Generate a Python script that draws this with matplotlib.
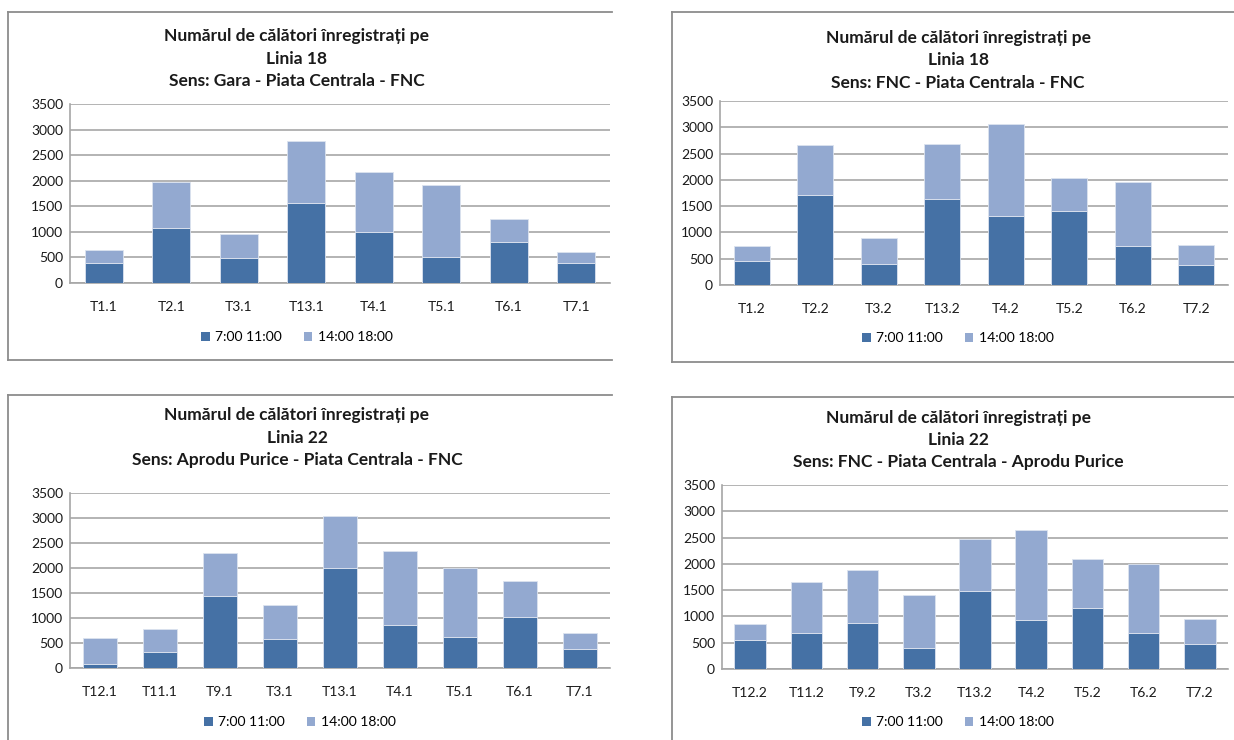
import matplotlib
matplotlib.use("Agg")
import matplotlib.pyplot as plt
from matplotlib.patches import Patch
from matplotlib.lines import Line2D
import numpy as np

plt.rcParams['font.family'] = ['Lato', 'DejaVu Sans']

W, H = 1234, 740

# ---- data -------------------------------------------------------------
series_names = ["7:00 11:00", "14:00 18:00"]

titles = [
    "Numărul de călători înregistrați pe\nLinia 18\nSens: Gara - Piata Centrala - FNC",
    "Numărul de călători înregistrați pe\nLinia 18\nSens: FNC - Piata Centrala - FNC",
    "Numărul de călători înregistrați pe\nLinia 22\nSens: Aprodu Purice - Piata Centrala - FNC",
    "Numărul de călători înregistrați pe\nLinia 22\nSens: FNC - Piata Centrala - Aprodu Purice",
]

cats_18_dus = ["T1.1", "T2.1", "T3.1", "T13.1", "T4.1", "T5.1", "T6.1", "T7.1"]
morning_18_dus = [390, 1080, 490, 1560, 1000, 500, 800, 390]
afternoon_18_dus = [260, 890, 460, 1220, 1180, 1420, 460, 225]

cats_18_intors = ["T1.2", "T2.2", "T3.2", "T13.2", "T4.2", "T5.2", "T6.2", "T7.2"]
morning_18_intors = [465, 1710, 400, 1640, 1305, 1400, 745, 375]
afternoon_18_intors = [275, 950, 485, 1050, 1755, 635, 1210, 385]

cats_22_dus = ["T12.1", "T11.1", "T9.1", "T3.1", "T13.1", "T4.1", "T5.1", "T6.1", "T7.1"]
morning_22_dus = [85, 330, 1450, 585, 2000, 865, 620, 1030, 390]
afternoon_22_dus = [525, 460, 845, 670, 1050, 1470, 1375, 715, 305]

cats_22_intors = ["T12.2", "T11.2", "T9.2", "T3.2", "T13.2", "T4.2", "T5.2", "T6.2", "T7.2"]
morning_22_intors = [545, 690, 880, 395, 1490, 930, 1155, 690, 475]
afternoon_22_intors = [310, 965, 995, 1015, 975, 1720, 935, 1310, 470]

y_ticks = [0, 500, 1000, 1500, 2000, 2500, 3000, 3500]

panels = [
    (cats_18_dus, morning_18_dus, afternoon_18_dus),
    (cats_18_intors, morning_18_intors, afternoon_18_intors),
    (cats_22_dus, morning_22_dus, afternoon_22_dus),
    (cats_22_intors, morning_22_intors, afternoon_22_intors),
]

# ---- layout (pixels) --------------------------------------------------
# frame box: left, top, right, bottom ; axes box: left, top, right, bottom
frames = [(8, 12, 612, 360), (672, 12, 1240, 362), (8, 395, 612, 745), (672, 397, 1240, 745)]
axes_boxes = [(70, 104, 610, 283), (720, 101, 1228, 285), (70, 493, 610, 668), (722, 485, 1228, 669)]
title_pos = [(297, 59), (958, 60), (297, 438), (958, 440)]
legend_pos = [(297, 337), (958, 338), (300, 722), (958, 722)]

DARK = "#4571A5"
LIGHT = "#93A9D0"
GRID = "#B3B3B3"
FRAME = "#8C8C8C"

fig = plt.figure(figsize=(W / 100, H / 100), dpi=100)
fig.patch.set_facecolor("white")


def fx(x):
    return x / W


def fy(y):
    return 1 - y / H


for i, (cats, mor, aft) in enumerate(panels):
    l, t, r, b = frames[i]
    # chart border (left, top, bottom edges)
    fig.add_artist(Line2D([fx(l), fx(r)], [fy(t), fy(t)], color=FRAME, lw=1.3))
    fig.add_artist(Line2D([fx(l), fx(r)], [fy(b), fy(b)], color=FRAME, lw=1.3))
    fig.add_artist(Line2D([fx(l), fx(l)], [fy(t), fy(b)], color=FRAME, lw=1.3))

    al, at, ar, ab = axes_boxes[i]
    ax = fig.add_axes([fx(al), fy(ab), fx(ar) - fx(al), fy(at) - fy(ab)])
    x = np.arange(len(cats))
    ax.bar(x, mor, width=0.56, color=DARK, edgecolor="#DCE3EF", linewidth=0.6, zorder=3)
    ax.bar(x, aft, width=0.56, bottom=mor, color=LIGHT, edgecolor="#DCE3EF", linewidth=0.6, zorder=3)
    ax.set_xlim(-0.5, len(cats) - 0.5)
    ax.set_ylim(0, 3500)
    ax.set_yticks(y_ticks)
    ax.set_yticklabels([str(v) for v in y_ticks], fontsize=10, color="#1A1A1A")
    ax.set_xticks(x)
    ax.set_xticklabels(cats, fontsize=10, color="#1A1A1A")
    ax.tick_params(axis="both", length=0)
    ax.tick_params(axis="x", pad=13)
    ax.tick_params(axis="y", pad=5)
    ax.grid(axis="y", color=GRID, lw=1.4, zorder=0)
    ax.set_axisbelow(True)
    for s in ("top", "right"):
        ax.spines[s].set_visible(False)
    for s in ("left", "bottom"):
        ax.spines[s].set_color("#A6A6A6")
        ax.spines[s].set_linewidth(1.2)

    tx, ty = title_pos[i]
    fig.text(fx(tx), fy(ty), titles[i], ha="center", va="center", fontsize=12.5,
             fontweight="bold", color="#1A1A1A", linespacing=1.5)

    lx, ly = legend_pos[i]
    handles = [Patch(facecolor=DARK, edgecolor="none"), Patch(facecolor=LIGHT, edgecolor="none")]
    fig.legend(handles, series_names, loc="center", bbox_to_anchor=(fx(lx), fy(ly)),
               ncol=2, frameon=False, fontsize=10, handlelength=0.6, handleheight=0.6,
               handletextpad=0.4, columnspacing=1.6, borderpad=0)

fig.savefig("out.png", dpi=100)
